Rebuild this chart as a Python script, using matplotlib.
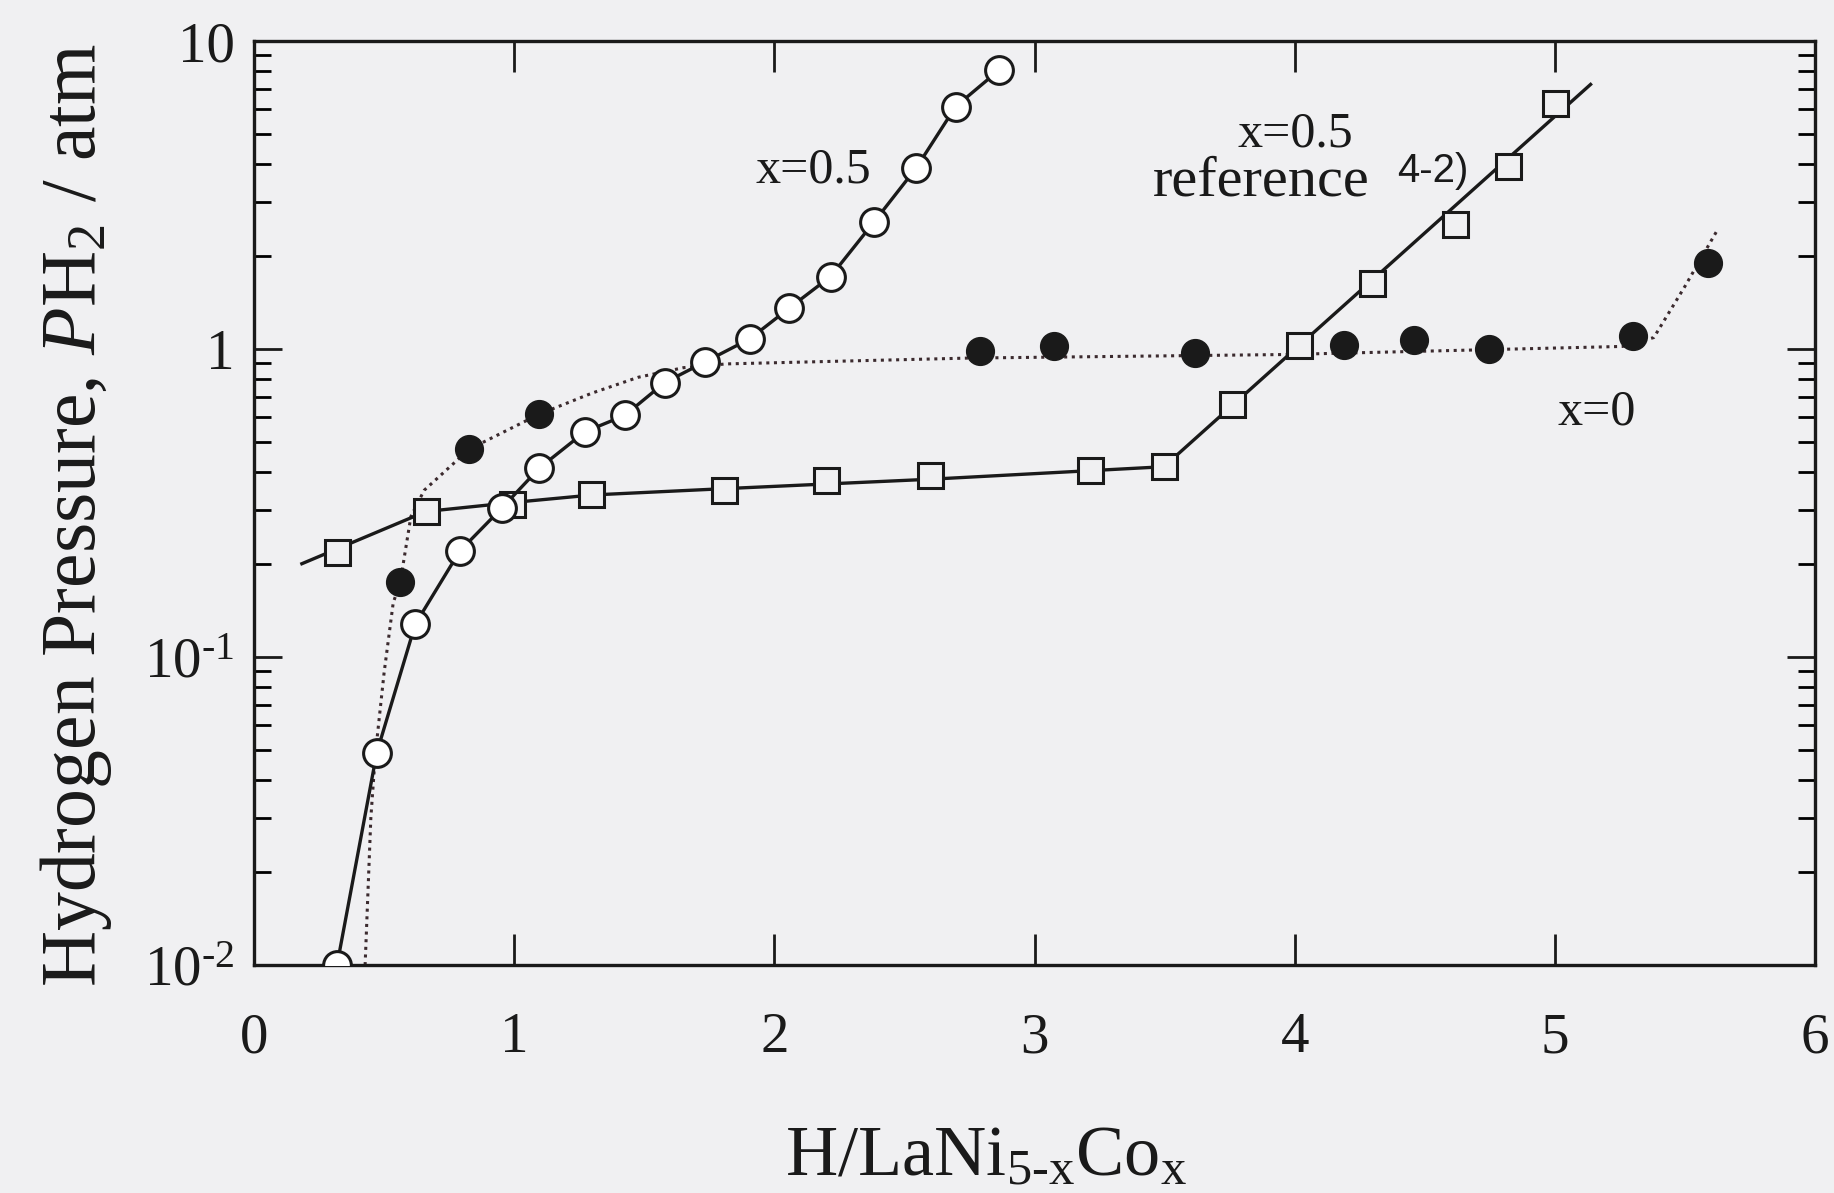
import matplotlib
matplotlib.use("Agg")
import matplotlib.pyplot as plt
from matplotlib.ticker import FixedLocator, FixedFormatter, NullFormatter

plt.rcParams['font.family'] = ['Liberation Serif', 'DejaVu Serif']
plt.rcParams['mathtext.fontset'] = 'custom'
plt.rcParams['mathtext.rm'] = 'Liberation Serif'
plt.rcParams['mathtext.it'] = 'Liberation Serif:italic'
plt.rcParams['mathtext.bf'] = 'Liberation Serif:bold'

# Open circles: x=0.5 (this work)
open_x = [0.319, 0.472, 0.620, 0.791, 0.953, 1.097, 1.272, 1.425, 1.578, 1.735,
          1.906, 2.058, 2.216, 2.382, 2.544, 2.697, 2.863]
open_p = [0.010, 0.049, 0.128, 0.221, 0.305, 0.411, 0.539, 0.609, 0.778, 0.910,
          1.08, 1.36, 1.72, 2.58, 3.86, 6.13, 8.04]

# Filled circles: x=0
fill_x = [0.562, 0.827, 1.097, 2.791, 3.074, 3.618, 4.189, 4.458, 4.746, 5.299, 5.587]
fill_p = [0.175, 0.473, 0.615, 0.986, 1.02, 0.97, 1.03, 1.07, 1.00, 1.10, 1.90]

# Dotted guide curve for x=0
dot_x = [0.427, 0.449, 0.466, 0.500, 0.535, 0.562, 0.603, 0.654, 0.827, 1.097,
         1.30, 1.477, 1.65, 1.815, 2.75, 3.96, 5.26, 5.38, 5.50, 5.625]
dot_p = [0.010, 0.030, 0.048, 0.089, 0.150, 0.175, 0.286, 0.348, 0.473, 0.615,
         0.72, 0.81, 0.87, 0.895, 0.935, 0.96, 1.02, 1.09, 1.60, 2.44]

# Squares: x=0.5 reference 4-2)
sq_x = [0.319, 0.661, 0.993, 1.294, 1.807, 2.198, 2.598, 3.213, 3.497,
        3.757, 4.018, 4.297, 4.616, 4.818, 5.002]
sq_p = [0.219, 0.297, 0.313, 0.339, 0.348, 0.377, 0.390, 0.404, 0.418,
        0.665, 1.03, 1.64, 2.54, 3.93, 6.29]

# Solid guide line for the reference data
ref_line_x = [0.184, 0.661, 1.0, 1.3, 1.8, 2.6, 3.497, 5.137]
ref_line_p = [0.201, 0.297, 0.318, 0.336, 0.352, 0.378, 0.415, 7.23]

x_ticks = [0, 1, 2, 3, 4, 5, 6]
x_ticklabels = ['0', '1', '2', '3', '4', '5', '6']
y_ticks = [0.01, 0.1, 1, 10]
y_ticklabels = ['10$^{\\mathregular{\u2010}2}$', '10$^{\\mathregular{\u2010}1}$', '1', '10']

bg = '#f0f0f2'
ink = '#1a1a1a'
fig = plt.figure(figsize=(18.34, 11.93), dpi=100, facecolor=bg)
ax = fig.add_axes([0.1385, 0.191, 0.8512, 0.7746])
ax.set_facecolor(bg)

ax.plot(dot_x, dot_p, linestyle=(0, (1, 1.5)), color='#3b2a2e', lw=2.2, zorder=2)
ax.plot(ref_line_x, ref_line_p, '-', color=ink, lw=2.4, zorder=2)
ax.plot(sq_x, sq_p, 's', ms=18, mfc=bg, mec=ink, mew=2.2, linestyle='none', zorder=3)
ax.plot(open_x, open_p, '-o', color=ink, lw=2.4, ms=20, mfc='white', mec=ink, mew=2.2, zorder=4)
ax.plot(fill_x, fill_p, 'o', ms=20, mfc=ink, mec=ink, linestyle='none', zorder=4)

ax.set_yscale('log')
ax.set_xlim(0, 6)
ax.set_ylim(0.01, 10)

ax.xaxis.set_major_locator(FixedLocator(x_ticks))
ax.xaxis.set_major_formatter(FixedFormatter(x_ticklabels))
ax.yaxis.set_major_locator(FixedLocator(y_ticks))
ax.yaxis.set_major_formatter(FixedFormatter(y_ticklabels))
minor = [m * d for d in (0.01, 0.1, 1) for m in range(2, 10)]
ax.yaxis.set_minor_locator(FixedLocator(minor))
ax.yaxis.set_minor_formatter(NullFormatter())

ax.tick_params(axis='x', which='major', direction='in', top=True, bottom=True,
               length=22, width=2, labelsize=41, pad=34, colors=ink)
ax.tick_params(axis='y', which='major', direction='in', left=True, right=True,
               length=20, width=2, labelsize=41, pad=14, colors=ink)
ax.tick_params(axis='y', which='minor', direction='in', left=True, right=True,
               length=12, width=2)
for s in ax.spines.values():
    s.set_linewidth(2.4)
    s.set_color(ink)

ax.set_xlabel('H/LaNi$_{\\mathregular{5\u2010x}}$Co$_{\\mathregular{x}}$', fontsize=52, color=ink)
ax.xaxis.set_label_coords(0.469, -0.209)
ax.xaxis.label.set_va('center')
ax.set_ylabel(r'Hydrogen Pressure, $\mathit{P}$H$_{2}$ / atm', fontsize=56, color=ink)
ax.yaxis.set_label_coords(-0.114, 0.487)
ax.yaxis.label.set_va('center')

ax.text(2.148, 3.82, 'x=0.5', fontsize=36, ha='center', va='center', color=ink)
ax.text(4.004, 4.97, 'x=0.5', fontsize=36, ha='center', va='center', color=ink)
ax.text(3.87, 3.50, 'reference', fontsize=42, ha='center', va='center', color=ink)
ax.text(4.53, 3.78, '4-2)', fontsize=29, ha='center', va='center', color=ink,
        family=['Liberation Sans', 'DejaVu Sans'])
ax.text(5.16, 0.625, 'x=0', fontsize=36, ha='center', va='center', color=ink)

fig.savefig('out.png', dpi=100, facecolor=bg)
